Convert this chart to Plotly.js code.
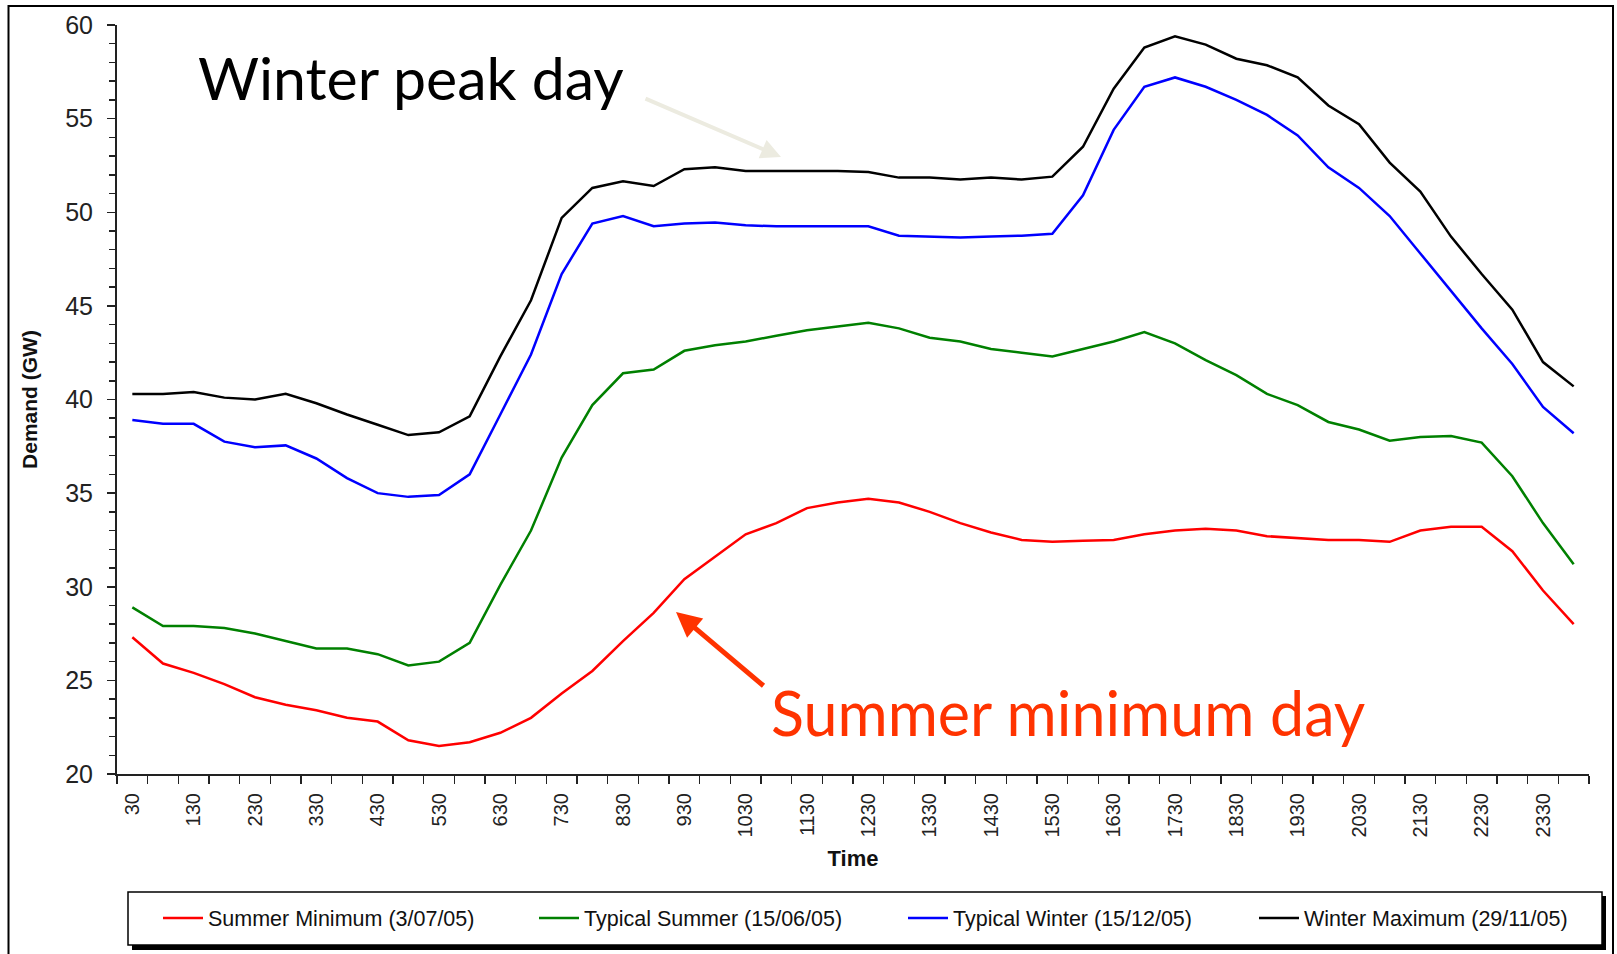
<!DOCTYPE html>
<html>
<head>
<meta charset="utf-8">
<script src="https://cdn.plot.ly/plotly-3.0.1.min.js"></script>
<style>html,body{margin:0;padding:0;background:#fff;}#chart{width:1617px;height:954px;}</style>
</head>
<body>
<div id="chart"></div>
<script>
// Half-hourly categories (HHMM without leading zeros)
const times = ['30','100','130','200','230','300','330','400','430','500','530','600','630','700','730','800','830','900','930','1000','1030','1100','1130','1200','1230','1300','1330','1400','1430','1500','1530','1600','1630','1700','1730','1800','1830','1900','1930','2000','2030','2100','2130','2200','2230','2300','2330','2400'];

const seriesNames = ['Summer Minimum (3/07/05)','Typical Summer (15/06/05)','Typical Winter (15/12/05)','Winter Maximum (29/11/05)'];

const summerMin = [27.3,25.9,25.4,24.8,24.1,23.7,23.4,23.0,22.8,21.8,21.5,21.7,22.2,23.0,24.3,25.5,27.1,28.6,30.4,31.6,32.8,33.4,34.2,34.5,34.7,34.5,34.0,33.4,32.9,32.5,32.4,32.45,32.5,32.8,33.0,33.1,33.0,32.7,32.6,32.5,32.5,32.4,33.0,33.2,33.2,31.9,29.8,28.0];
const typicalSummer = [28.9,27.9,27.9,27.8,27.5,27.1,26.7,26.7,26.4,25.8,26.0,27.0,30.1,33.0,36.9,39.7,41.4,41.6,42.6,42.9,43.1,43.4,43.7,43.9,44.1,43.8,43.3,43.1,42.7,42.5,42.3,42.7,43.1,43.6,43.0,42.1,41.3,40.3,39.7,38.8,38.4,37.8,38.0,38.05,37.7,35.9,33.4,31.2];
const typicalWinter = [38.9,38.7,38.7,37.75,37.45,37.55,36.85,35.8,35.0,34.8,34.9,36.0,39.2,42.4,46.7,49.4,49.8,49.25,49.4,49.45,49.3,49.25,49.25,49.25,49.25,48.75,48.7,48.65,48.7,48.75,48.85,50.9,54.4,56.7,57.2,56.7,56.0,55.2,54.1,52.4,51.3,49.8,47.8,45.8,43.8,41.9,39.6,38.2];
const winterMax = [40.3,40.3,40.4,40.1,40.0,40.3,39.8,39.2,38.65,38.1,38.25,39.1,42.3,45.3,49.7,51.3,51.65,51.4,52.3,52.4,52.2,52.2,52.2,52.2,52.15,51.85,51.85,51.75,51.85,51.75,51.9,53.5,56.6,58.8,59.4,58.95,58.2,57.85,57.2,55.7,54.7,52.65,51.1,48.7,46.7,44.8,42.0,40.7];

const yTickVals = [20,25,30,35,40,45,50,55,60];

const seriesData = [summerMin, typicalSummer, typicalWinter, winterMax];
const seriesColors = ['#ff0000','#008000','#0000ff','#000000'];

const W = 1617, H = 954;
const M = {l:117, r:28, t:25, b:180, autoexpand: false};
const pw = W - M.l - M.r, ph = H - M.t - M.b;
const px = x => (x - M.l) / pw;
const py = y => (H - M.b - y) / ph;

const legendIds = ['legend','legend2','legend3','legend4'];
const legendTextX = [208, 584, 953, 1304];   // pixel x where each legend label starts

const traces = seriesData.map((d, k) => ({
  type: 'scatter', mode: 'lines', name: seriesNames[k],
  x: times, y: d, legend: legendIds[k],
  line: {color: seriesColors[k], width: 2.5}
}));

const FONT = 'Arial, Liberation Sans, sans-serif';

const layout = {
  width: W, height: H,
  margin: M,
  paper_bgcolor: '#fff', plot_bgcolor: '#fff',
  showlegend: true,
  font: {family: FONT, color: '#111'},
  xaxis: {
    type: 'category', range: [-0.5, 47.5],
    tickmode: 'array', tickvals: times,
    ticktext: times.map((t, i) => i % 2 === 0 ? t : ''),
    tickson: 'boundaries',
    ticks: 'outside', ticklen: 8, tickwidth: 1.5, tickcolor: '#222',
    tickangle: -90, ticklabelstandoff: 9,
    tickfont: {family: FONT, size: 20, color: '#222'},
    showline: true, linecolor: '#222', linewidth: 2,
    showgrid: false, zeroline: false, automargin: false,
    title: {text: 'Time', font: {family: FONT, size: 22, weight: 'bold', color: '#111'}, standoff: 14}
  },
  yaxis: {
    range: [20, 60], tickmode: 'array', tickvals: yTickVals,
    ticks: 'outside', ticklen: 8, tickwidth: 1.5, tickcolor: '#222',
    minor: {dtick: 1, tick0: 20, ticks: 'outside', ticklen: 6, tickwidth: 1.5, tickcolor: '#222', showgrid: false},
    tickfont: {family: FONT, size: 25, color: '#222'},
    ticklabelstandoff: 9,
    showline: true, linecolor: '#222', linewidth: 2,
    showgrid: false, zeroline: false, automargin: false,
    title: {text: 'Demand (GW)', font: {family: FONT, size: 21, weight: 'bold', color: '#111'}, standoff: 22}
  },
  shapes: [
    {type: 'rect', xref: 'paper', yref: 'paper', x0: px(8.5), x1: px(1613), y0: py(6), y1: py(975), line: {color: '#000', width: 2}, fillcolor: 'rgba(0,0,0,0)', layer: 'above'},
    {type: 'rect', xref: 'paper', yref: 'paper', x0: px(132), x1: px(1606), y0: py(896), y1: py(950), line: {width: 0}, fillcolor: '#000', layer: 'above'},
    {type: 'rect', xref: 'paper', yref: 'paper', x0: px(128), x1: px(1602), y0: py(892), y1: py(945), line: {color: '#000', width: 1.5}, fillcolor: '#fff', layer: 'above'}
  ],
  annotations: [
    {xref: 'paper', yref: 'paper', x: px(196), y: py(77), xanchor: 'left', yanchor: 'middle', showarrow: false,
     text: 'Winter peak day', font: {family: 'Lato, Noto Sans, sans-serif', size: 59, color: '#000'}},
    {xref: 'paper', yref: 'paper', x: px(769), y: py(712), xanchor: 'left', yanchor: 'middle', showarrow: false,
     text: 'Summer minimum day', font: {family: 'Lato, Noto Sans, sans-serif', size: 61, color: 'rgb(255,51,0)'}},
    {xref: 'paper', yref: 'paper', x: px(781), y: py(157), ax: -137, ay: -59, text: '', showarrow: true,
     arrowhead: 2, arrowsize: 1, arrowwidth: 4, arrowcolor: '#ecebe0', standoff: 0},
    {xref: 'paper', yref: 'paper', x: px(676), y: py(612), ax: 89, ay: 75, text: '', showarrow: true,
     arrowhead: 2, arrowsize: 1, arrowwidth: 5, arrowcolor: 'rgb(255,51,0)', standoff: 0}
  ]
};

legendIds.forEach((id, k) => {
  layout[id] = {
    orientation: 'h', x: px(legendTextX[k] - 50), xanchor: 'left', y: py(918), yanchor: 'middle',
    bgcolor: 'rgba(0,0,0,0)', borderwidth: 0, itemwidth: 40,
    font: {family: FONT, size: 21.5, color: '#111'}
  };
});

Plotly.newPlot('chart', traces, layout, {staticPlot: true, displayModeBar: false});
</script>
</body>
</html>
